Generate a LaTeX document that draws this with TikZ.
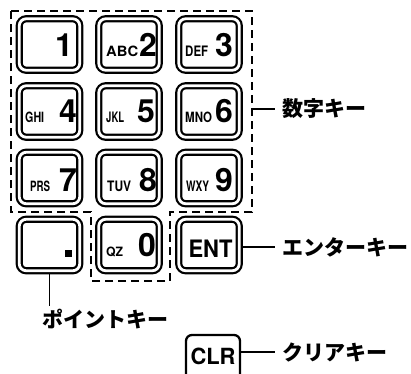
\documentclass[tikz,border=0pt]{standalone}
\usepackage{fontspec}
\usepackage{graphicx}
\newfontfamily\hv{TeX Gyre Heros}
\newfontfamily\jp{Noto Sans CJK JP}
\newcommand\ltr[3][10.5]{\resizebox{#2pt}{#1pt}{\hv\bfseries #3}}
\tikzset{
 keybox/.style={draw, line width=2.2pt, double=white, double distance=2.8pt, rounded corners=7pt, minimum width=60.5pt, minimum height=51.5pt, inner sep=0pt, outer sep=3.6pt},
 digit/.style={anchor=base east, inner sep=0pt, font=\hv\bfseries\fontsize{32}{32}\selectfont},
 letters/.style={anchor=base west, inner sep=0pt},
 jlabel/.style={inner sep=0pt, outer sep=7pt, font=\jp\bfseries\fontsize{21}{21}\selectfont},
 lead/.style={line width=1.6pt},
 grp/.style={line width=2.3pt, dash pattern=on 8pt off 5pt},
}
\begin{document}
\begin{tikzpicture}[x=1pt,y=-1pt]
\fill[white] (0,0) rectangle (411,373);
\useasboundingbox (0,0) rectangle (411,373);
% group outline
\draw[grp] (11,11) -- (252,11) -- (252,212) -- (170,212) -- (170,281) -- (91,281) -- (91,212) -- (11,212) -- cycle;
\coordinate (numR) at (252,109);
% keys
\node[keybox] (k1) at (49.5,44.5) {};
\node[keybox] (k2) at (129,44.5) {};
\node[keybox] (k3) at (209,44.5) {};
\node[keybox] (k4) at (49.5,111.5) {};
\node[keybox] (k5) at (129,111.5) {};
\node[keybox] (k6) at (209,111.5) {};
\node[keybox] (k7) at (49.5,178) {};
\node[keybox] (k8) at (129,178) {};
\node[keybox] (k9) at (209,178) {};
\node[keybox] (kdot) at (49.5,245) {};
\node[keybox] (k0) at (129,245) {};
\node[keybox] (kent) at (209,245) {};
% digits
\node[digit] (d1) at (73,56.5) {1};
\node[digit] (d2) at (157,56.5) {2};
\node[digit] (d3) at (233,56.5) {3};
\node[digit] (d4) at (77,122.5) {4};
\node[digit] (d5) at (155,122.5) {5};
\node[digit] (d6) at (233,122.5) {6};
\node[digit] (d7) at (77,191) {7};
\node[digit] (d8) at (157,191) {8};
\node[digit] (d9) at (233,191) {9};
\node[digit] (d0) at (156,256) {0};
% letters
\node[letters] (l2) at (106,56.5) {\ltr{32}{ABC}};
\node[letters] (l3) at (185,56.5) {\ltr{23}{DEF}};
\node[letters] (l4) at (25,122.5) {\ltr{19}{GHI}};
\node[letters] (l5) at (106,122.5) {\ltr{18}{JKL}};
\node[letters] (l6) at (185,122.5) {\ltr{27}{MNO}};
\node[letters] (l7) at (30,191) {\ltr{20}{PRS}};
\node[letters] (l8) at (107,191) {\ltr{24}{TUV}};
\node[letters] (l9) at (186,191) {\ltr{23}{WXY}};
\node[letters] (l0) at (106,256) {\ltr[9.5]{17}{QZ}};
\node[fill, minimum size=7pt, inner sep=0pt] (dot) at (68.5,253.5) {};
\node[anchor=base, inner sep=0pt] (enttxt) at (210.5,257) {\ltr[17.5]{44}{ENT}};
% CLR key
\node[draw, line width=2.3pt, rounded corners=6pt, minimum width=54pt, minimum height=46pt, inner sep=0pt, outer sep=1.15pt] (clr) at (213,358) {};
\node[anchor=base, inner sep=0pt] (clrtxt) at (213,364) {\ltr[16.5]{45}{CLR}};
% labels
\node[jlabel, anchor=west] (numlbl) at (275,109) {数字キー};
\node[jlabel, anchor=west] (entlbl) at (275,247) {エンターキー};
\node[jlabel, anchor=west] (clrlbl) at (275,352) {クリアキー};
\node[jlabel, outer sep=0pt] (ptlbl) at (105.5,319) {ポイントキー};
\coordinate (ptend) at (50,306);
% leaders
\draw[lead] (numR) -- (numlbl.west);
\draw[lead] (entlbl.west -| kent.east) -- (entlbl.west);
\draw[lead] (clrlbl.west -| clr.east) -- (clrlbl.west);
\draw[lead] (kdot.south) -- (kdot.south |- ptend);
\end{tikzpicture}
\end{document}
